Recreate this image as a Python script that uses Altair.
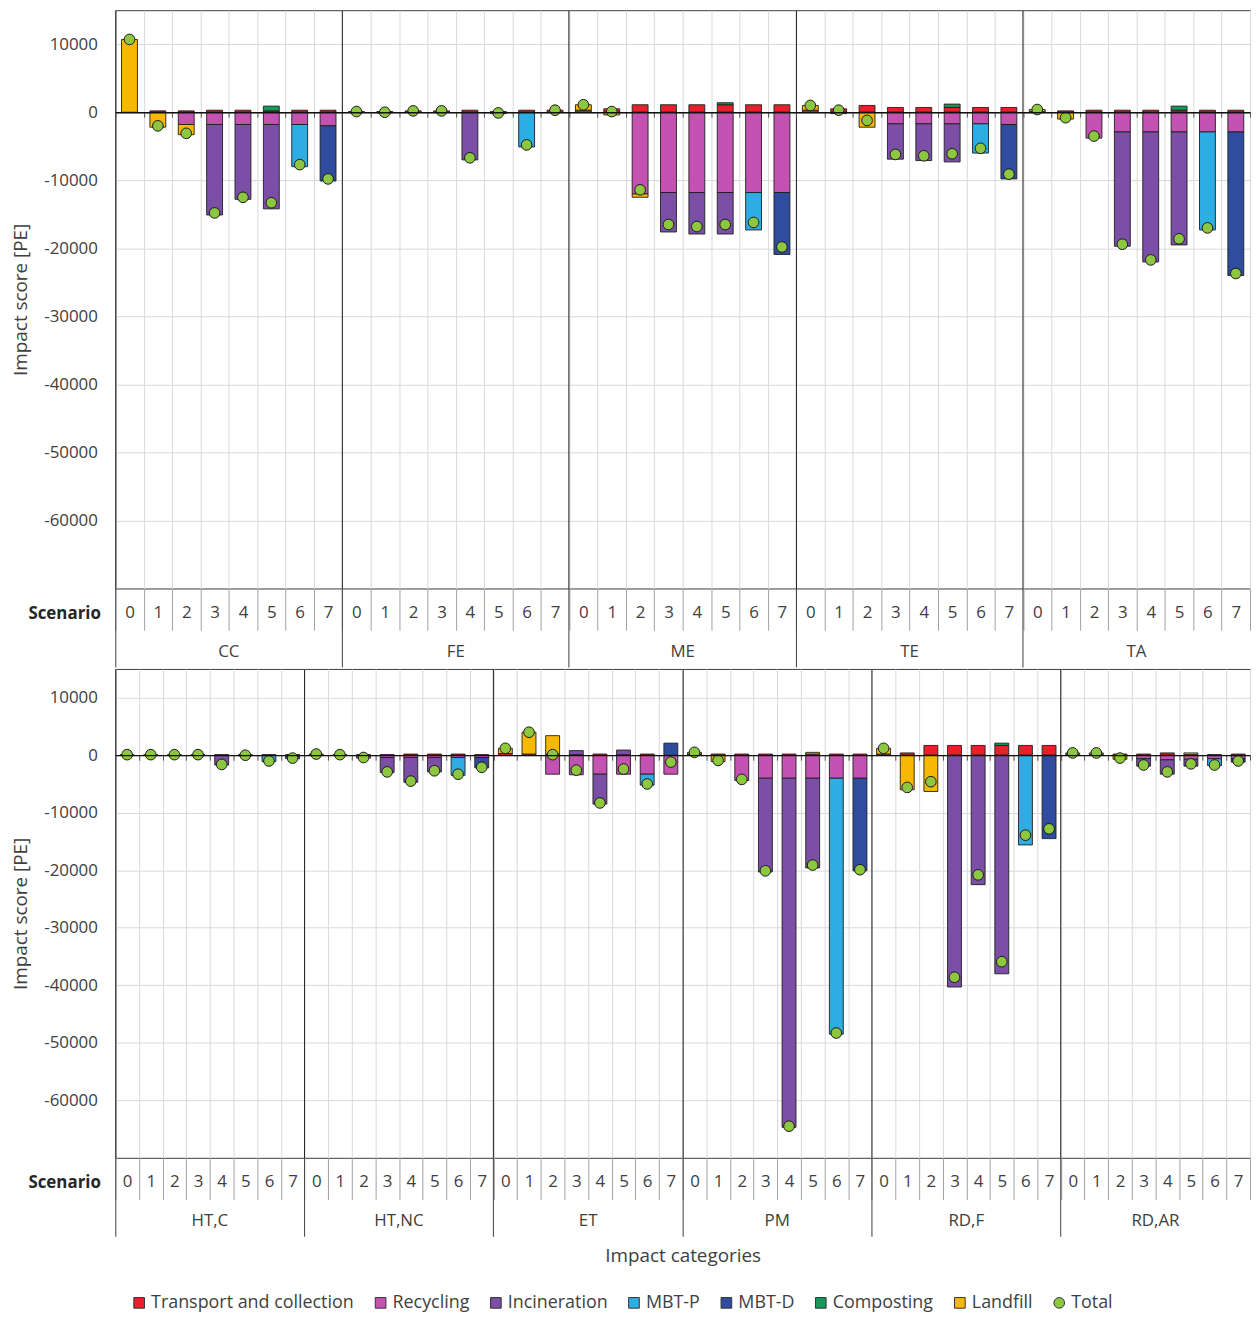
import altair as alt
import pandas as pd

top_categories = ["CC", "FE", "ME", "TE", "TA"]
bottom_categories = ["HT,C", "HT,NC", "ET", "PM", "RD,F", "RD,AR"]
scenarios = ["0", "1", "2", "3", "4", "5", "6", "7"]
series_names = ["Transport and collection", "Recycling", "Incineration",
                "MBT-P", "MBT-D", "Composting", "Landfill"]
series_colors = ["#e8202a", "#c452b2", "#7b4fa5", "#2dade4", "#2f4c9f", "#13995a", "#f8b700"]
total_name = "Total"
total_color = "#8dc63f"
y_ticks = [10000, 0, -10000, -20000, -30000, -40000, -50000, -60000]

# values per category (8 scenarios each), order: CC FE ME TE TA | HT,C HT,NC ET PM RD,F RD,AR
transport = [
    0, 200, 200, 300, 300, 200, 300, 300,          # CC
    100, 100, 200, 200, 300, 100, 300, 300,        # FE
    300, 500, 1100, 1100, 1100, 1100, 1100, 1100,  # ME
    300, 500, 1000, 700, 700, 700, 700, 700,       # TE
    100, 200, 300, 300, 300, 300, 300, 300,        # TA
    100, 100, 100, 100, 100, 100, 100, 100,        # HT,C
    200, 100, 100, 100, 200, 200, 200, 100,        # HT,NC
    300, 200, 200, 100, 200, 100, 200, 0,          # ET
    200, 200, 200, 200, 200, 200, 200, 200,        # PM
    200, 400, 1700, 1700, 1700, 1700, 1700, 1700,  # RD,F
    100, 100, 200, 200, 400, 100, 100, 200,        # RD,AR
]
recycling = [
    0, 0, -1800, -1800, -1800, -1800, -1800, -2000,
    0, -100, 0, 0, 0, -200, 0, 0,
    0, 0, -12000, -11800, -11800, -11800, -11800, -11800,
    0, 0, 0, -1700, -1700, -1700, -1700, -1800,
    0, 0, -3800, -2900, -2900, -2900, -2900, -2900,
    0, 0, 0, 0, 0, -100, 0, 0,
    0, 0, -500, -400, -400, -400, -400, -400,
    0, 0, -3300, -3400, -3300, -3300, -3300, -3300,
    0, 0, -4400, -4000, -4000, -4000, -4000, -4000,
    0, 0, 0, 0, 0, 0, 0, 0,
    0, 0, 0, -600, -800, -700, -600, -600,
]
incineration = [
    0, 0, 0, -13300, -11000, -12400, 0, 0,
    0, 0, 0, 0, -7000, 0, 0, 0,
    0, 0, 0, -5800, -6100, -6100, 0, 0,
    0, 0, 0, -5200, -5400, -5600, 0, 0,
    0, 0, 0, -16800, -19100, -16600, 0, 0,
    0, 0, 0, 0, -1700, 0, 0, 0,
    0, 0, 0, -2600, -4300, -2500, 0, 0,
    0, 0, 0, 700, -5200, 800, 0, 0,
    0, 0, 0, -16300, -60700, -15600, 0, 0,
    0, 0, 0, -40300, -22500, -38000, 0, 0,
    0, 0, 0, -1300, -2500, -1200, 0, 0,
]
mbt_p = [
    0, 0, 0, 0, 0, 0, -6200, 0,
    0, 0, 0, 0, 0, 0, -5100, 0,
    0, 0, 0, 0, 0, 0, -5500, 0,
    0, 0, 0, 0, 0, 0, -4300, 0,
    0, 0, 0, 0, 0, 0, -14400, 0,
    0, 0, 0, 0, 0, 0, -1100, 0,
    0, 0, 0, 0, 0, 0, -3100, 0,
    0, 0, 0, 0, 0, 0, -1900, 0,
    0, 0, 0, 0, 0, 0, -44500, 0,
    0, 0, 0, 0, 0, 0, -15600, 0,
    0, 0, 0, 0, 0, 0, -1200, 0,
]
mbt_d = [
    0, 0, 0, 0, 0, 0, 0, -8100,
    0, 0, 0, 0, 0, 0, 0, 0,
    0, 0, 0, 0, 0, 0, 0, -9100,
    0, 0, 0, 0, 0, 0, 0, -8000,
    0, 0, 0, 0, 0, 0, 0, -21100,
    0, 0, 0, 0, 0, 0, 0, -600,
    0, 0, 0, 0, 0, 0, 0, -1800,
    0, 0, 0, 0, 0, 0, 0, 2100,
    0, 0, 0, 0, 0, 0, 0, -16100,
    0, 0, 0, 0, 0, 0, 0, -14500,
    0, 0, 0, 0, 0, 0, 0, -600,
]
composting = [
    0, 0, 0, 0, 0, 700, 0, 0,
    0, 0, 0, 0, 0, 0, 0, 0,
    0, 0, 0, 0, 0, 300, 0, 0,
    0, 0, 0, 0, 0, 500, 0, 0,
    0, 0, 0, 0, 0, 600, 0, 0,
    0, 0, 0, 0, 0, 0, 0, 0,
    0, 0, 0, 0, 0, 0, 0, 0,
    0, 0, 0, 0, 0, 0, 0, 0,
    0, 0, 0, 0, 0, 0, 0, 0,
    0, 0, 0, 0, 0, 400, 0, 0,
    0, 0, 0, 0, 0, 0, 0, 0,
]
landfill = [
    10700, -2200, -1500, 0, 0, 0, 0, 0,
    0, 0, 0, 0, 0, 0, 0, 0,
    800, -400, -500, 0, 0, 0, 0, 0,
    700, -200, -2200, 0, 0, 0, 0, 0,
    300, -1000, 0, 0, 0, 0, 0, 0,
    0, 0, 0, 0, 0, 0, 0, 0,
    0, 0, 0, 0, 0, 0, 0, 0,
    900, 3800, 3200, 0, 0, 0, 0, 0,
    300, -1100, 0, 0, 0, 300, 0, 0,
    1000, -6000, -6300, 0, 0, 0, 0, 0,
    300, 300, -700, 0, 0, 300, 0, 0,
]

series_values = [transport, recycling, incineration, mbt_p, mbt_d, composting, landfill]
all_categories = top_categories + bottom_categories

bar_rows, total_rows = [], []
for ci, cat in enumerate(all_categories):
    for si, sc in enumerate(scenarios):
        i = ci * len(scenarios) + si
        key = f"{cat}|{sc}"
        tot = 0
        for k, name in enumerate(series_names):
            v = series_values[k][i]
            tot += v
            if v != 0:
                bar_rows.append({"cat": cat, "key": key, "series": name, "order": k, "value": v})
        total_rows.append({"cat": cat, "key": key, "series": total_name, "value": tot})
bars_df = pd.DataFrame(bar_rows)
totals_df = pd.DataFrame(total_rows)

PLOT_W = 1142
Y_MIN, Y_MAX = -70000, 15000
TXT = "#404040"

legend_domain = series_names + [total_name]
color_scale = alt.Scale(domain=legend_domain, range=series_colors + [total_color])
shape_scale = alt.Scale(domain=legend_domain, range=["square"] * 7 + ["circle"])
legend = alt.Legend(title=None, orient="none", legendX=15, legendY=1292,
                    direction="horizontal", labelFontSize=18, labelColor=TXT, labelLimit=0,
                    symbolSize=115, columnPadding=17, labelOffset=3,
                    symbolStrokeColor="#333333", symbolStrokeWidth=1)


def make_row(cats, plot_h, bar_w, last):
    keys = [f"{c}|{s}" for c in cats for s in scenarios]
    step = PLOT_W / len(keys)
    zero_from_bottom = plot_h * (0 - Y_MIN) / (Y_MAX - Y_MIN)
    b = bars_df[bars_df["cat"].isin(cats)]
    t = totals_df[totals_df["cat"].isin(cats)]
    xscale = alt.Scale(domain=keys, paddingInner=0, paddingOuter=0)
    yscale = alt.Scale(domain=[Y_MIN, Y_MAX], nice=False, zero=False)
    yaxis = alt.Axis(values=y_ticks, labelExpr="'' + datum.value", grid=True, gridColor="#d9d9d9",
                     domain=False, ticks=False, labelPadding=18, labelFontSize=17,
                     labelColor=TXT, title="Impact score [PE]", titleFontSize=19,
                     titleFontWeight="normal", titleColor=TXT, titlePadding=13)
    y = alt.Y("value:Q", scale=yscale, axis=yaxis)

    scen_axis = alt.Axis(orient="bottom", grid=True, gridColor="#d9d9d9", tickBand="extent",
                         ticks=True, tickSize=42, tickColor="#a0a0a0", domain=False,
                         labelExpr="split(datum.value, '|')[1]", labelAngle=0,
                         labelOverlap=False, labelPadding=-26, labelFontSize=17,
                         labelColor=TXT, title="Scenario", titleX=-15, titleY=25,
                         titleAlign="right", titleBaseline="middle", titleAngle=0,
                         titleFontWeight="bold", titleFontSize=17, titleColor="#262626")
    sep_axis = alt.Axis(orient="bottom", values=[f"{c}|0" for c in cats], bandPosition=0,
                        grid=True, gridColor="#1a1a1a", ticks=True, tickSize=79,
                        tickColor="#404040", labels=False, domain=False, title=None, zindex=1)
    cat_kwargs = dict(orient="bottom", values=[f"{c}|4" for c in cats], ticks=False,
                      domain=False, grid=False, labelExpr="split(datum.value, '|')[0]",
                      labelAngle=0, labelOverlap=False, labelOffset=-step / 2,
                      labelPadding=55, labelFontSize=17, labelColor=TXT)
    if last:
        cat_axis = alt.Axis(title="Impact categories", titleFontSize=19, titleColor=TXT,
                            titleFontWeight="normal", titlePadding=18, **cat_kwargs)
    else:
        cat_axis = alt.Axis(title=None, **cat_kwargs)
    zero_axis = alt.Axis(orient="bottom", offset=-zero_from_bottom, tickBand="extent",
                         ticks=True, tickSize=5, tickColor="#555555", domain=True,
                         domainColor="#111111", domainWidth=1.3, labels=False, grid=False,
                         title=None, zindex=1)

    bars = alt.Chart(b).mark_bar(width=bar_w, stroke="#1e1e1e", strokeWidth=0.9).encode(
        x=alt.X("key:N", scale=xscale, axis=scen_axis),
        y=alt.Y("value:Q", scale=yscale, axis=yaxis, stack="zero"),
        color=alt.Color("series:N", scale=color_scale, legend=legend),
        order=alt.Order("order:Q", sort="ascending"),
    )
    pts = alt.Chart(t).mark_point(filled=True, size=115, stroke="#1a1a1a",
                                  strokeWidth=1, opacity=1).encode(
        x=alt.X("key:N", scale=xscale, axis=sep_axis),
        y=y,
        color=alt.Color("series:N", scale=color_scale, legend=legend),
        shape=alt.Shape("series:N", scale=shape_scale, legend=legend),
    )
    cat_layer = alt.Chart(t).mark_point(opacity=0).encode(
        x=alt.X("key:N", scale=xscale, axis=cat_axis), y=y)
    zero_layer = alt.Chart(t).mark_point(opacity=0).encode(
        x=alt.X("key:N", scale=xscale, axis=zero_axis), y=y)

    return alt.layer(bars, zero_layer, pts, cat_layer).resolve_axis(x="independent").properties(
        width=PLOT_W, height=plot_h)


row1 = make_row(top_categories, 582, 16, False)
row2 = make_row(bottom_categories, 492, 14, True)

chart = alt.vconcat(row1, row2, spacing=0).properties(
    padding={"left": 3, "top": -3, "right": 0, "bottom": 0}
).configure(font="Open Sans").configure_view(stroke="#3c3c3c", strokeWidth=1)

chart.save("out.html", embed_options={"renderer": "svg", "actions": False})
